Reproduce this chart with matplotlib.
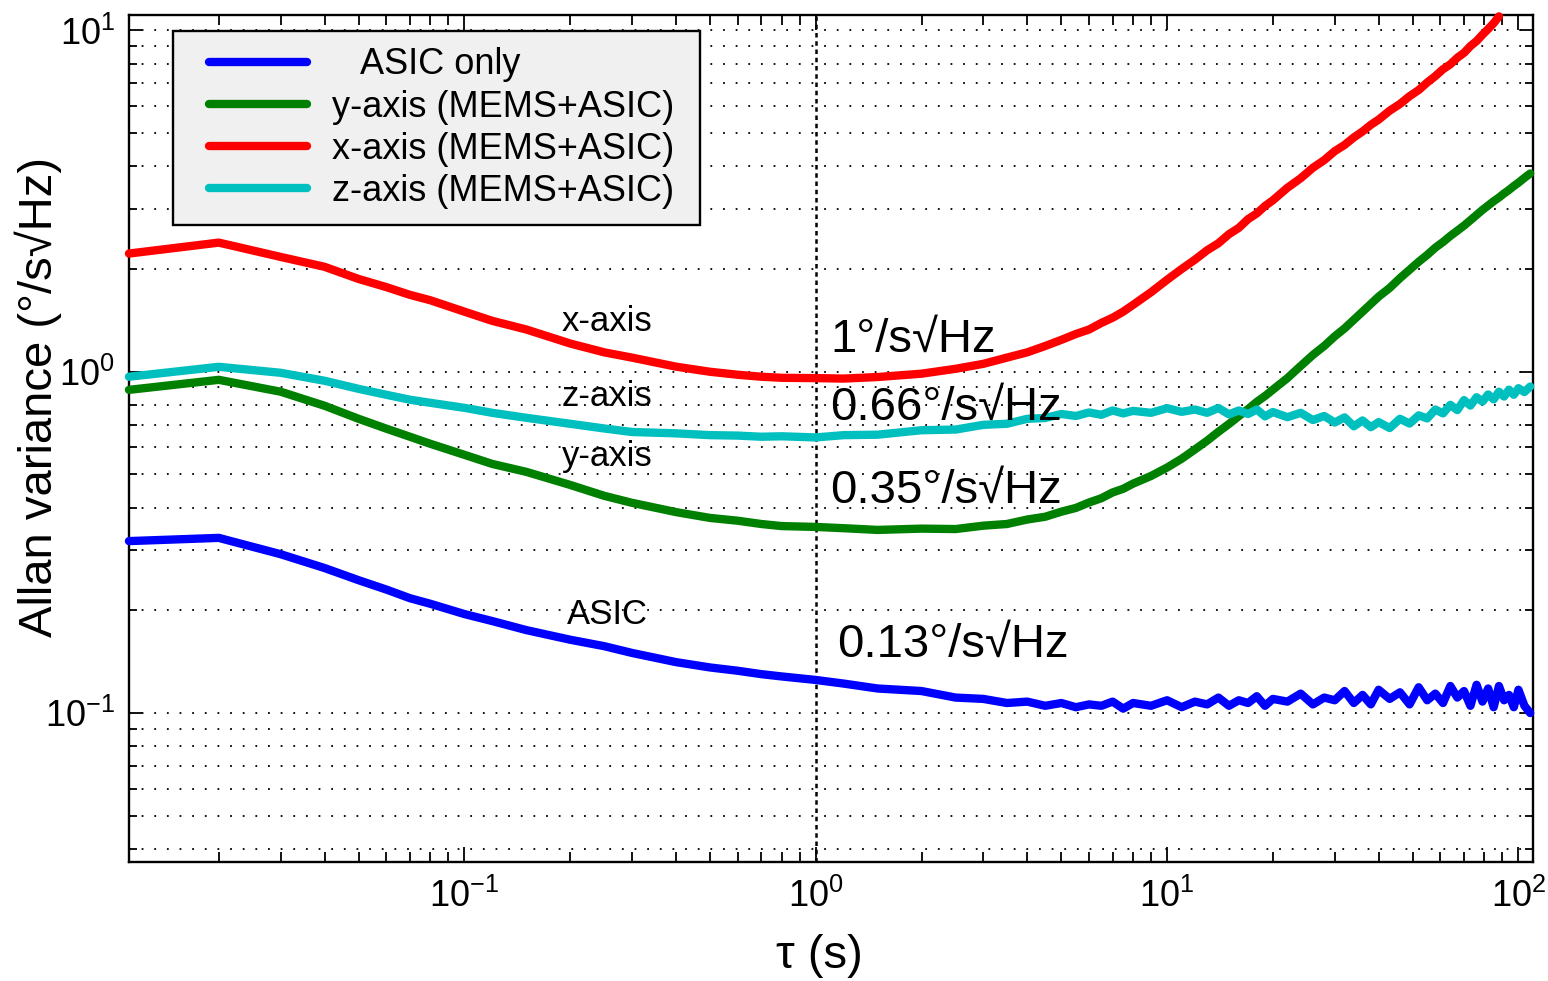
import numpy as np
import matplotlib.pyplot as plt
from matplotlib.ticker import LogLocator, NullFormatter
from matplotlib.lines import Line2D
from matplotlib.legend_handler import HandlerLine2D

plt.rcParams['font.family'] = ['Liberation Sans', 'DejaVu Sans']
plt.rcParams['mathtext.fontset'] = 'custom'
plt.rcParams['mathtext.rm'] = 'Liberation Sans'
plt.rcParams['mathtext.it'] = 'Liberation Sans'
plt.rcParams['mathtext.default'] = 'regular'

# averaging time tau (s)
tau = [0.0111, 0.02, 0.03, 0.04, 0.05, 0.06, 0.07, 0.08, 0.1, 0.12, 0.15, 0.2,
       0.25, 0.3, 0.4, 0.5, 0.6, 0.7, 0.8, 1.0, 1.2, 1.5, 2.0, 2.5, 3.0, 3.5,
       4.0, 4.5, 5, 5.5, 6, 6.5, 7, 7.5, 8, 9, 10, 11, 12, 13, 14, 15, 16, 17,
       18, 19, 20, 22, 24, 26, 28, 30, 32, 34, 36, 38, 40, 43, 46, 49, 52, 55,
       58, 61, 64, 67, 70, 73, 76, 79, 82, 85, 88, 91, 94, 97, 100, 104, 108]

asic = [0.319, 0.326, 0.292, 0.266, 0.245, 0.230, 0.217, 0.209, 0.195, 0.186, 0.175, 0.164,
        0.157, 0.150, 0.141, 0.136, 0.133, 0.130, 0.128, 0.125, 0.122, 0.118, 0.116, 0.111, 0.110, 0.107,
        0.108, 0.105, 0.107, 0.104, 0.106, 0.105, 0.108, 0.103, 0.107, 0.105, 0.109, 0.104, 0.108, 0.106, 0.111, 0.105, 0.109, 0.107,
        0.112, 0.105, 0.110, 0.108, 0.114, 0.106, 0.111, 0.109, 0.116, 0.107, 0.113, 0.106, 0.117, 0.110, 0.115, 0.106, 0.119, 0.109,
        0.114, 0.107, 0.120, 0.111, 0.116, 0.105, 0.121, 0.108, 0.118, 0.104, 0.120, 0.109, 0.113, 0.104, 0.117, 0.105, 0.100]

y_axis = [0.885, 0.947, 0.874, 0.795, 0.728, 0.681, 0.645, 0.615, 0.571, 0.537, 0.509, 0.466,
          0.433, 0.413, 0.388, 0.373, 0.366, 0.358, 0.353, 0.351, 0.348, 0.344, 0.347, 0.346, 0.354, 0.358,
          0.369, 0.376, 0.389, 0.399, 0.414, 0.426, 0.443, 0.454, 0.470, 0.495, 0.524, 0.556, 0.592, 0.628, 0.667, 0.703, 0.741, 0.777,
          0.816, 0.849, 0.886, 0.958, 1.04, 1.12, 1.19, 1.27, 1.34, 1.42, 1.50, 1.58, 1.66, 1.76, 1.88, 1.99, 2.10, 2.20,
          2.31, 2.40, 2.50, 2.59, 2.68, 2.78, 2.88, 2.98, 3.07, 3.16, 3.24, 3.33, 3.41, 3.50, 3.58, 3.70, 3.81]

x_axis = [2.22, 2.39, 2.17, 2.03, 1.87, 1.77, 1.68, 1.62, 1.50, 1.41, 1.33, 1.21,
          1.14, 1.10, 1.035, 1.00, 0.98, 0.967, 0.96, 0.958, 0.955, 0.965, 0.987, 1.02, 1.055, 1.10,
          1.14, 1.19, 1.24, 1.29, 1.33, 1.39, 1.44, 1.50, 1.57, 1.71, 1.86, 2.00, 2.13, 2.27, 2.38, 2.53, 2.64, 2.80,
          2.91, 3.06, 3.18, 3.46, 3.69, 3.96, 4.17, 4.43, 4.62, 4.86, 5.06, 5.29, 5.48, 5.82, 6.09, 6.42, 6.69, 7.04,
          7.35, 7.70, 7.96, 8.32, 8.60, 9.00, 9.31, 9.72, 10.1, 10.5, 11.0]

z_axis = [0.967, 1.034, 0.993, 0.941, 0.891, 0.856, 0.828, 0.811, 0.784, 0.758, 0.733, 0.704,
          0.682, 0.666, 0.660, 0.652, 0.650, 0.645, 0.647, 0.642, 0.652, 0.654, 0.674, 0.677, 0.699, 0.704,
          0.728, 0.732, 0.752, 0.742, 0.760, 0.748, 0.770, 0.755, 0.768, 0.758, 0.782, 0.763, 0.775, 0.758, 0.783, 0.750, 0.770, 0.752,
          0.775, 0.740, 0.762, 0.736, 0.758, 0.722, 0.742, 0.710, 0.735, 0.692, 0.720, 0.688, 0.712, 0.684, 0.728, 0.705, 0.745, 0.730,
          0.775, 0.755, 0.800, 0.772, 0.826, 0.796, 0.842, 0.818, 0.858, 0.830, 0.874, 0.846, 0.886, 0.856, 0.895, 0.872, 0.905]

labels = ['   ASIC only', 'y-axis (MEMS+ASIC) ', 'x-axis (MEMS+ASIC) ', 'z-axis (MEMS+ASIC) ']
colors = ['#0000ff', '#008000', '#ff0000', '#00bfbf']

fig = plt.figure(figsize=(15.48, 9.81), dpi=100)
ax = fig.add_axes([0.0833, 0.1213, 0.9070, 0.8634])

series = [asic, y_axis, x_axis, z_axis]
for vals, lab, col in zip(series, labels, colors):
    ax.plot(tau[:len(vals)], vals, color=col, lw=6, label=lab,
            solid_capstyle='round', solid_joinstyle='round', clip_on=False, zorder=3)

ax.set_xscale('log')
ax.set_yscale('log')
ax.set_xlim(0.0111, 110)
ax.set_ylim(0.0366, 11.1)

ax.xaxis.set_minor_locator(LogLocator(base=10, subs=np.arange(2, 10)))
ax.yaxis.set_minor_locator(LogLocator(base=10, subs=np.arange(2, 10)))
ax.xaxis.set_minor_formatter(NullFormatter())
ax.yaxis.set_minor_formatter(NullFormatter())

ax.grid(axis='y', which='both', color='k', ls=(0, (1, 6)), lw=1.3)
ax.axvline(1, color='k', ls=(0, (1.8, 1.5)), lw=1.8, zorder=1)

ax.tick_params(which='both', direction='in', top=True, right=True, width=1.3, colors='k')
ax.tick_params(axis='x', which='major', length=11, pad=12, labelsize=26)
ax.tick_params(axis='x', which='minor', length=7)
ax.tick_params(axis='y', which='major', length=9.5, pad=10, labelsize=26)
ax.tick_params(axis='y', which='minor', length=5.5)
for sp in ax.spines.values():
    sp.set_linewidth(1.7)

ax.set_xlabel('τ (s)', fontsize=34)
ax.set_ylabel('Allan variance (°/s√Hz)', fontsize=34)
ax.xaxis.set_label_coords(0.492, -0.085)
ax.yaxis.set_label_coords(-0.048, 0.549)

# curve names
ax.text(0.255, 1.40, 'x-axis', fontsize=25, ha='center', va='center')
ax.text(0.255, 0.845, 'z-axis', fontsize=25, ha='center', va='center')
ax.text(0.255, 0.563, 'y-axis', fontsize=25, ha='center', va='center')
ax.text(0.255, 0.194, 'ASIC', fontsize=25, ha='center', va='center')

# noise level at tau = 1 s
ax.text(1.10, 1.24, '1°/s√Hz', fontsize=34, ha='left', va='center')
ax.text(1.10, 0.784, '0.66°/s√Hz', fontsize=34, ha='left', va='center')
ax.text(1.10, 0.448, '0.35°/s√Hz', fontsize=34, ha='left', va='center')
ax.text(1.148, 0.158, '0.13°/s√Hz', fontsize=34, ha='left', va='center')

leg = ax.legend(loc='upper left', bbox_to_anchor=(0.0313, 0.981), borderaxespad=0,
                fontsize=26, handlelength=3.25, handletextpad=0.7, labelspacing=0.2,
                borderpad=0.45, fancybox=False, framealpha=1, facecolor='#f0f0f0',
                edgecolor='k', handler_map={Line2D: HandlerLine2D(xpad=0.55)})
leg.get_frame().set_linewidth(1.7)
for h in leg.get_lines():
    h.set_linewidth(6)

fig.savefig('out.png', dpi=100)
